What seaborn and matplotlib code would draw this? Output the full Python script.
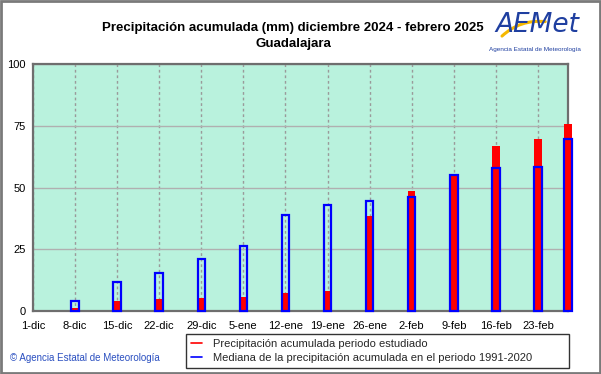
import numpy as np
import pandas as pd
import matplotlib
matplotlib.use("Agg")
import matplotlib.pyplot as plt
from matplotlib.lines import Line2D
from matplotlib.patches import Rectangle, FancyArrowPatch
import seaborn as sns

# ---- data ----
start_date = "2024-12-01"
bar_dates = ["2024-12-08", "2024-12-15", "2024-12-22", "2024-12-29", "2025-01-05",
             "2025-01-12", "2025-01-19", "2025-01-26", "2025-02-02", "2025-02-09",
             "2025-02-16", "2025-02-23", "2025-02-28"]
median_1991_2020 = [4.2, 11.9, 15.5, 21.0, 26.4, 38.7, 42.8, 44.7, 46.2, 55.2, 58.0, 58.4, 69.8]
precip_actual = [1.3, 4.0, 5.0, 5.2, 5.5, 7.3, 8.1, 38.6, 48.7, 55.2, 66.8, 69.8, 75.6]
tick_labels = ["1-dic", "8-dic", "15-dic", "22-dic", "29-dic", "5-ene", "12-ene",
               "19-ene", "26-ene", "2-feb", "9-feb", "16-feb", "23-feb"]
y_ticks = [0, 25, 50, 75, 100]

days = (pd.to_datetime(bar_dates) - pd.Timestamp(start_date)).days.astype(float)
df = pd.DataFrame({"day": days, "median": median_1991_2020, "actual": precip_actual})
end_day = float((pd.Timestamp("2025-02-28") - pd.Timestamp(start_date)).days)

sns.set_style("white")
plt.rcParams["font.family"] = ["Liberation Sans", "DejaVu Sans"]

fig = plt.figure(figsize=(6.01, 3.74), dpi=100)
ax = fig.add_axes([33 / 601, 1 - 311 / 374, (568 - 33) / 601, (311 - 64) / 374])
ax.set_facecolor("#b9f2dd")

# red bars (actual)
sns.barplot(data=df, x="day", y="actual", native_scale=True, width=0.25,
            color="#ff0000", saturation=1, linewidth=0, ax=ax, zorder=3)
# blue hollow bars (median)
sns.barplot(data=df, x="day", y="median", native_scale=True, width=0.25,
            color="#0000ff", saturation=1, fill=False, linewidth=1.6, ax=ax, zorder=4)
for p in ax.patches:
    p.set_clip_on(False)

ax.set_xlim(0, end_day)
ax.set_ylim(0, 100)
ax.set_xlabel("")
ax.set_ylabel("")
week_days = np.arange(0, len(tick_labels) * 7, 7)
ax.set_xticks(week_days)
ax.set_xticklabels(tick_labels)
ax.set_yticks(y_ticks)
ax.tick_params(axis="both", length=0, labelsize=8, colors="black")
ax.tick_params(axis="x", pad=7)
ax.tick_params(axis="y", pad=5)

ax.grid(axis="x", color="#9a9a9a", linestyle=(0, (2, 2)), linewidth=1.0, zorder=1)
ax.grid(axis="y", color="#b0b0b0", linestyle="-", linewidth=1.0, zorder=1)
ax.set_axisbelow(True)
for s in ax.spines.values():
    s.set_visible(True)
    s.set_color("#6e6e6e")
    s.set_linewidth(1.6)

# titles
fig.text(293 / 601, 1 - 28 / 374, "Precipitación acumulada (mm) diciembre 2024 - febrero 2025",
         ha="center", va="center", fontsize=9.5, fontweight="bold", color="black")
fig.text(293 / 601, 1 - 44 / 374, "Guadalajara", ha="center", va="center",
         fontsize=9.5, fontweight="bold", color="black")

# logo
fig.text(537 / 601, 1 - 25 / 374, "AEMet", ha="center", va="center", fontsize=19,
         style="italic", color="#1f3fa0", family=["Liberation Sans Narrow", "DejaVu Sans"])
swoosh = FancyArrowPatch((500 / 601, 1 - 38 / 374), (548 / 601, 1 - 22 / 374),
                         transform=fig.transFigure, connectionstyle="arc3,rad=-0.25",
                         arrowstyle="-", color="#f5b800", linewidth=2.2)
fig.patches.append(swoosh)
fig.text(535 / 601, 1 - 49 / 374, "Agencia Estatal de Meteorología", ha="center", va="center",
         fontsize=4.6, color="#1f3fa0")

# copyright
fig.text(10 / 601, 1 - 358 / 374, "© Agencia Estatal de Meteorología", ha="left", va="center",
         fontsize=7, color="#2a4fc0")

# legend
handles = [Line2D([], [], color="#ff0000", linewidth=1.2),
           Line2D([], [], color="#0000ff", linewidth=1.2)]
labels = ["Precipitación acumulada periodo estudiado",
          "Mediana de la precipitación acumulada en el periodo 1991-2020"]
leg = fig.legend(handles, labels, loc="lower left",
                 bbox_to_anchor=(186 / 601, 6 / 374, (569 - 186) / 601, 35 / 374),
                 mode="expand", frameon=True, fancybox=False, fontsize=8,
                 handlelength=1.0, handletextpad=1.0, borderaxespad=0, borderpad=0.45,
                 labelspacing=0.35)
leg.get_frame().set_edgecolor("black")
leg.get_frame().set_linewidth(1.0)

# outer border
fig.patches.append(Rectangle((0.001, 0.002), 0.997, 0.995, transform=fig.transFigure,
                             fill=False, edgecolor="#7a7a7a", linewidth=2.0))

fig.savefig("out.png", dpi=100)
